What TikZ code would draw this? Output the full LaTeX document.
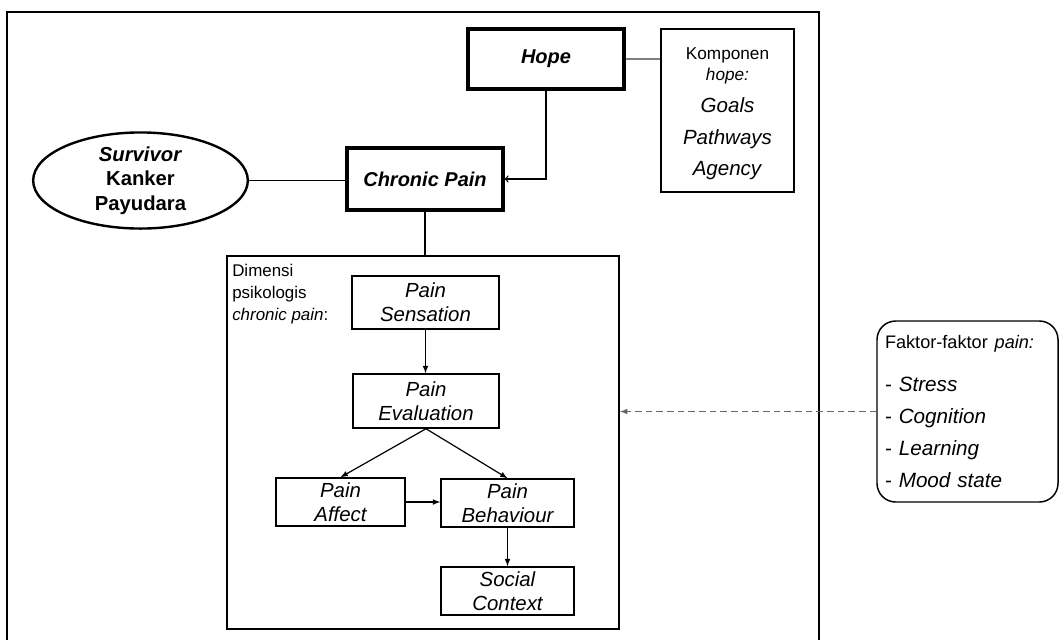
\documentclass[tikz,border=0pt]{standalone}
\usepackage{fontspec}
\setmainfont{Liberation Sans}
\usetikzlibrary{shapes.geometric}

\begin{document}
\begin{tikzpicture}[x=0.75pt,y=-0.75pt,
	mainbox/.style={draw,line width=2.4pt,inner sep=0pt,align=center,font=\fontsize{15}{18}\selectfont\bfseries\itshape},
	dimbox/.style={draw,line width=1.1pt,inner sep=0pt,align=center,font=\fontsize{15.3}{18}\selectfont\itshape},
	link/.style={line width=1pt},
	flow/.style={line width=0.9pt,-latex}]
	\useasboundingbox (0,0) rectangle (1059,640);

	% Draw outer frame
	\draw[line width=1.5pt] (7,640) -- (7,12) -- (819,12) -- (819,640);

	% Hope and its components
	\node[mainbox,minimum width=117pt,minimum height=45pt] (hope) at (546,59) {Hope};
	\node[draw,line width=1.1pt,inner sep=0pt,align=center,minimum width=99.75pt,minimum height=122.25pt,font=\fontsize{12.9}{15.75}\selectfont] (komp) at (727.5,110.5)
		{\rule{0pt}{13.8pt}Komponen\\\textit{hope:}\\[8.25pt]\fontsize{15.4}{18}\selectfont\textit{Goals}\\[8.25pt]\fontsize{15.4}{18}\selectfont\textit{Pathways}\\[7.5pt]\fontsize{15.4}{18}\selectfont\textit{Agency}};

	% Survivor and chronic pain
	\node[ellipse,draw,line width=1.8pt,inner sep=0pt,minimum width=161pt,minimum height=71pt,align=center,font=\fontsize{15.2}{18.4}\selectfont\bfseries] (surv) at (140.5,180.5) {\textit{Survivor}\\Kanker\\Payudara};
	\node[mainbox,minimum width=117pt,minimum height=46.5pt] (chronic) at (425,179) {Chronic Pain};

	% Psychological dimensions
	\node[draw,line width=1.4pt,minimum width=294pt,minimum height=279.75pt,inner sep=0pt] (dim) at (423,442.5) {};
	\node[anchor=north west,inner sep=0pt,align=left,font=\fontsize{12.7}{16.3}\selectfont] (dimlbl) at (232,264) {Dimensi\\psikologis\\\textit{chronic pain}:};
	\node[dimbox,minimum width=110.25pt,minimum height=39.75pt] (sens) at (425.5,302.5) {Pain\\Sensation};
	\node[dimbox,minimum width=109.5pt,minimum height=40.5pt] (eval) at (426,401) {Pain\\Evaluation};
	\node[dimbox,minimum width=96.75pt,minimum height=36pt] (affect) at (340.5,502) {Pain\\Affect};
	\node[dimbox,minimum width=99.75pt,minimum height=36pt] (beh) at (507.5,503) {Pain\\Behaviour};
	\node[dimbox,minimum width=99.75pt,minimum height=36pt] (social) at (507.5,591) {Social\\Context};

	% Pain factors
	\node[draw,line width=1.1pt,rounded corners=14pt,inner xsep=6pt,inner ysep=0pt,text width=123.75pt,minimum height=135.75pt,align=left,font=\fontsize{15.5}{24}\selectfont] (faktor) at (967.5,411.5)
		{{\fontsize{13.6}{24}\selectfont Faktor-faktor \textit{pain:}}\\[8.25pt]- \textit{Stress}\\- \textit{Cognition}\\- \textit{Learning}\\- \textit{Mood state}};

	% Connectors
	\draw[link,gray] (hope.east) -- (hope.east -| komp.west);
	\draw[link,->,>=to,shorten >=0pt] (hope.south) |- (chronic.east);
	\draw[link] (surv.east) -- (surv.east -| chronic.west);
	\draw[link] (chronic.south) -- (chronic.south |- dim.north);
	\draw[flow] (sens.south) -- (sens.south |- eval.north);
	\draw[flow] (eval.south) -- (affect.north);
	\draw[flow] (eval.south) -- (beh.north);
	\draw[flow] (affect.east) -- (affect.east -| beh.west);
	\draw[flow] (beh.south) -- (social.north);
	\draw[flow,gray!80!black,dashed,dash pattern=on 5pt off 3pt] (faktor.west) -- (faktor.west -| dim.east);
\end{tikzpicture}
\end{document}
